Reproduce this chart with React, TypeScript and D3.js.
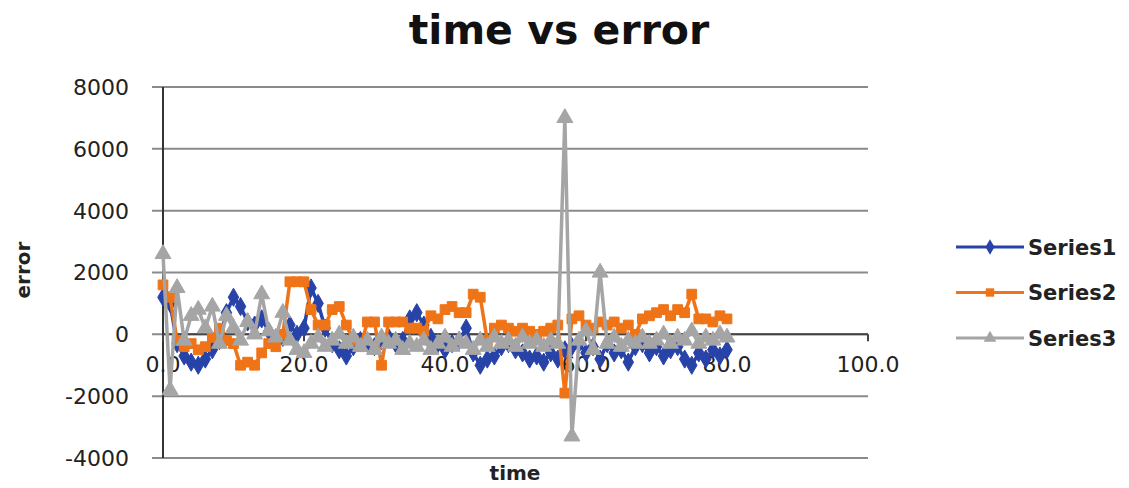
import React from "react";
import * as d3 from "d3";

const times = [0,1,2,3,4,5,6,7,8,9,10,11,12,13,14,15,16,17,18,19,20,21,22,23,24,25,26,27,28,29,30,31,32,33,34,35,36,37,38,39,40,41,42,43,44,45,46,47,48,49,50,51,52,53,54,55,56,57,58,59,60,61,62,63,64,65,66,67,68,69,70,71,72,73,74,75,76,77,78,79,80];

const series1 = [1200,1000,-300,-700,-900,-1000,-800,-500,-200,700,1200,900,400,300,500,100,-200,-100,300,0,200,1500,1000,200,-300,-500,-700,-400,-200,-300,-400,-200,-100,-300,-200,500,700,300,-100,-300,-500,-300,-200,200,-600,-1000,-800,-700,-400,-300,-500,-600,-800,-700,-900,-600,-800,-500,-400,-300,-600,-400,-800,-300,-600,-500,-900,-400,-300,-600,-400,-700,-500,-400,-800,-1000,-600,-800,-500,-700,-500];

const series2 = [1600,1200,-200,-400,-300,-500,-400,-100,200,-200,-300,-1000,-900,-1000,-600,-300,-400,0,1700,1700,1700,800,300,300,800,900,300,-200,-400,400,400,-1000,400,400,400,200,200,100,600,500,800,900,700,700,1300,1200,-200,200,300,200,100,200,100,0,100,200,300,-1900,500,600,300,200,400,300,400,200,300,0,500,600,700,800,600,800,700,1300,500,500,400,600,500];

const series3 = [2600,-1800,1500,-200,600,800,200,900,-300,600,200,-200,400,0,1300,100,-100,700,-200,-500,-600,-300,-100,-400,-200,0,-300,-100,-400,-200,-500,-100,-300,-200,-500,-300,-400,-200,-500,-300,-100,-400,-200,-300,-500,-200,-400,-100,-300,-200,-400,-100,-300,-200,-400,-200,-300,7000,-3300,-200,100,-500,2000,-300,-100,-400,-200,-300,-100,-300,-200,0,-300,-100,-200,100,-300,-100,-200,0,-100];

const seriesNames = ["Series1", "Series2", "Series3"];
const seriesColors = ["#2843A8", "#EF7417", "#A5A5A5"];
const yTicks = [-4000, -2000, 0, 2000, 4000, 6000, 8000];
const xTicks = [0, 20, 40, 60, 80, 100];

export default function App() {
  const x = d3.scaleLinear().domain([0, 100]).range([163, 868]);
  const y = d3.scaleLinear().domain([-4000, 8000]).range([458, 87]);
  const allSeries = [series1, series2, series3];
  const symbols = [d3.symbolDiamond, d3.symbolSquare, d3.symbolTriangle];
  const sizes = [95, 95, 110];
  const line = d3
    .line<[number, number]>()
    .x((d) => x(d[0]))
    .y((d) => y(d[1]));
  const font = "'DejaVu Sans', Verdana, sans-serif";

  return (
    <svg
      width={1129}
      height={488}
      style={{ position: "absolute", left: 0, top: 0, background: "#fff" }}
      fontFamily={font}
    >
      <text x={559} y={44} textAnchor="middle" fontSize={41} fontWeight="bold" fill="#111">
        time vs error
      </text>
      {yTicks.map((t) => (
        <g key={t}>
          <line x1={152} x2={868} y1={y(t)} y2={y(t)} stroke="#8a8a8a" strokeWidth={2} />
          <text x={129} y={y(t)} dy="0.36em" textAnchor="end" fontSize={22} fill="#222">
            {t}
          </text>
        </g>
      ))}
      <line x1={163} x2={163} y1={y(8000)} y2={y(-4000)} stroke="#333" strokeWidth={2} />
      <line x1={163} x2={868} y1={y(0)} y2={y(0)} stroke="#444" strokeWidth={2} />
      {xTicks.map((t) => (
        <g key={t}>
          <line x1={x(t)} x2={x(t)} y1={y(0)} y2={y(0) + 7} stroke="#444" strokeWidth={2} />
          <text x={x(t)} y={y(0) + 38} textAnchor="middle" fontSize={22} fill="#222">
            {t.toFixed(1)}
          </text>
        </g>
      ))}
      {allSeries.map((s, i) => {
        const pts: [number, number][] = times.map((t, j) => [t, s[j]]);
        const sym = d3.symbol().type(symbols[i]).size(sizes[i])();
        return (
          <g key={i}>
            <path d={line(pts) || ""} fill="none" stroke={seriesColors[i]} strokeWidth={3.5} />
            {pts.map((p, j) => (
              <path
                key={j}
                d={sym || ""}
                transform={`translate(${x(p[0])},${y(p[1])})`}
                fill={seriesColors[i]}
                stroke={seriesColors[i]}
              />
            ))}
          </g>
        );
      })}
      <text x={515} y={480} textAnchor="middle" fontSize={20} fontWeight="bold" fill="#222">
        time
      </text>
      <text
        transform="translate(30,270) rotate(-90)"
        textAnchor="middle"
        fontSize={20}
        fontWeight="bold"
        fill="#222"
      >
        error
      </text>
      {seriesNames.map((n, i) => {
        const ly = 247 + i * 45.5;
        const sym = d3.symbol().type(symbols[i]).size(70)();
        return (
          <g key={n}>
            <line x1={956} x2={1024} y1={ly} y2={ly} stroke={seriesColors[i]} strokeWidth={3} />
            <path d={sym || ""} transform={`translate(990,${ly})`} fill={seriesColors[i]} />
            <text x={1028} y={ly} dy="0.36em" fontSize={21} fontWeight="bold" fill="#222">
              {n}
            </text>
          </g>
        );
      })}
    </svg>
  );
}
